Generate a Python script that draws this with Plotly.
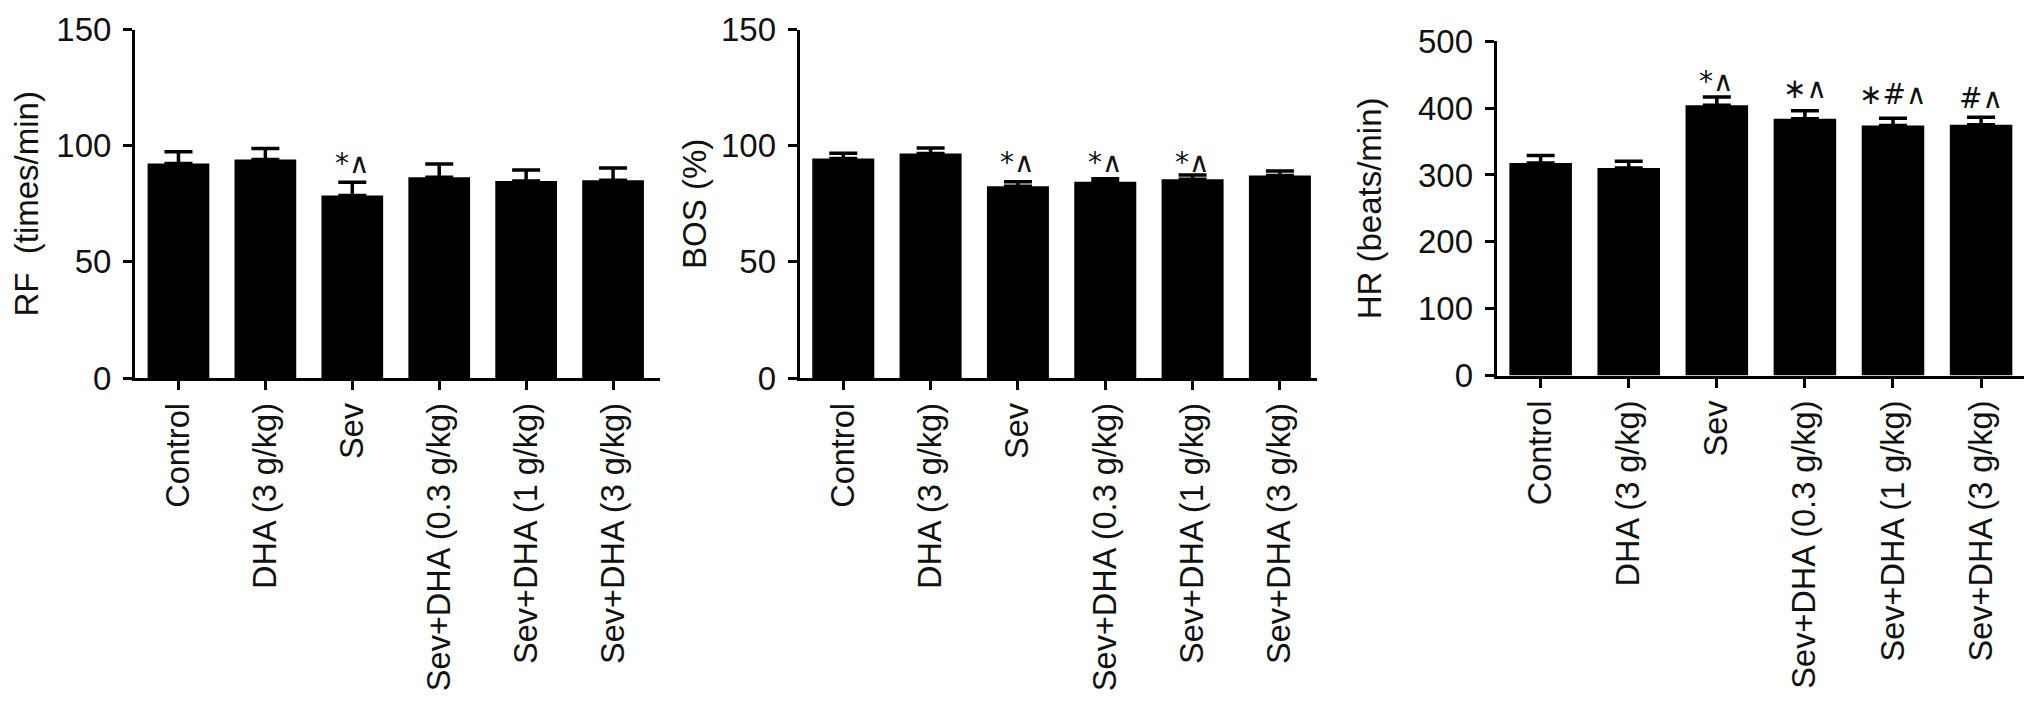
import plotly.graph_objects as go
from plotly.subplots import make_subplots

groups = ['Control', 'DHA (3 g/kg)', 'Sev', 'Sev+DHA (0.3 g/kg)', 'Sev+DHA (1 g/kg)', 'Sev+DHA (3 g/kg)']

# RF (times/min)
rf_mean = [92.4, 94.1, 78.6, 86.5, 84.8, 85.2]
rf_err = [5.0, 4.7, 5.7, 5.7, 4.8, 5.2]
rf_marks = ['', '', '*∧', '', '', '']
rf_mark_y = [0, 0, 92.5, 0, 0, 0]

# BOS (%)
bos_mean = [94.5, 96.7, 82.6, 84.5, 85.6, 87.2]
bos_err = [2.3, 2.3, 1.9, 1.3, 1.8, 2.0]
bos_marks = ['', '', '*∧', '*∧', '*∧', '']
bos_mark_y = [0, 0, 93, 93, 93, 0]

# HR (beats/min)
hr_mean = [318, 310.6, 404.5, 384, 374, 375.3]
hr_err = [11, 10, 12, 12, 11, 11]
hr_marks = ['', '', '*∧', '∗∧', '∗#∧', '#∧']
hr_mark_y = [0, 0, 440, 430, 420, 415]

W, H = 2032, 702
FONT = 'Liberation Sans, Arial, sans-serif'

fig = make_subplots(rows=1, cols=3)

panels = [
    (rf_mean, rf_err, rf_marks, rf_mark_y, 'RF  (times/min)', [0, 150], 50, [127, 652], [21.7, 370], [-0.5, 5.54], 12),
    (bos_mean, bos_err, bos_marks, bos_mark_y, 'BOS (%)', [0, 150], 50, [791.6, 1308.6], [21.7, 370], [-0.5, 5.42], 5),
    (hr_mean, hr_err, hr_marks, hr_mark_y, 'HR (beats/min)', [0, 500], 100, [1488.6, 2018], [33.3, 367.5], [-0.5, 5.51], 27),
]

for i, (mean, err, marks, mark_y, title, yr, dt, xpx, ypx, xr, so) in enumerate(panels):
    col = i + 1
    fig.add_trace(go.Bar(
        x=groups, y=mean,
        marker=dict(color='black', line=dict(width=0)),
        error_y=dict(type='data', array=err, symmetric=False, arrayminus=[0] * len(err),
                     color='black', thickness=3.5, width=14),
        showlegend=False,
    ), row=1, col=col)

    axis_style = dict(showline=True, linewidth=3, linecolor='black', ticks='outside', automargin=False,
                      ticklen=9, tickwidth=3, tickcolor='black', showgrid=False, zeroline=False)
    fig.update_xaxes(axis_style, row=1, col=col, tickangle=-90, range=xr,
                     domain=[xpx[0] / W, xpx[1] / W],
                     tickfont=dict(family=FONT, size=32.5, color='#111'))
    fig.update_yaxes(axis_style, row=1, col=col, range=yr, dtick=dt,
                     domain=[1 - ypx[1] / H, 1 - ypx[0] / H],
                     tickfont=dict(family=FONT, size=33, color='#111'),
                     ticklabelstandoff=5,
                     title=dict(text=title, font=dict(family=FONT, size=33, color='#111'), standoff=so))

    # significance marks above bars
    xref = 'x' if col == 1 else 'x%d' % col
    yref = 'y' if col == 1 else 'y%d' % col
    for g, m, my in zip(groups, marks, mark_y):
        if m:
            fig.add_annotation(x=g, y=my, xref=xref, yref=yref, text=m, showarrow=False,
                               font=dict(family='DejaVu Sans, ' + FONT, size=28, color='#111'))

fig.update_layout(
    width=W, height=H,
    margin=dict(l=0, r=0, t=0, b=0),
    plot_bgcolor='white', paper_bgcolor='white',
    bargap=0.29,
)

fig.write_html("out.html")
